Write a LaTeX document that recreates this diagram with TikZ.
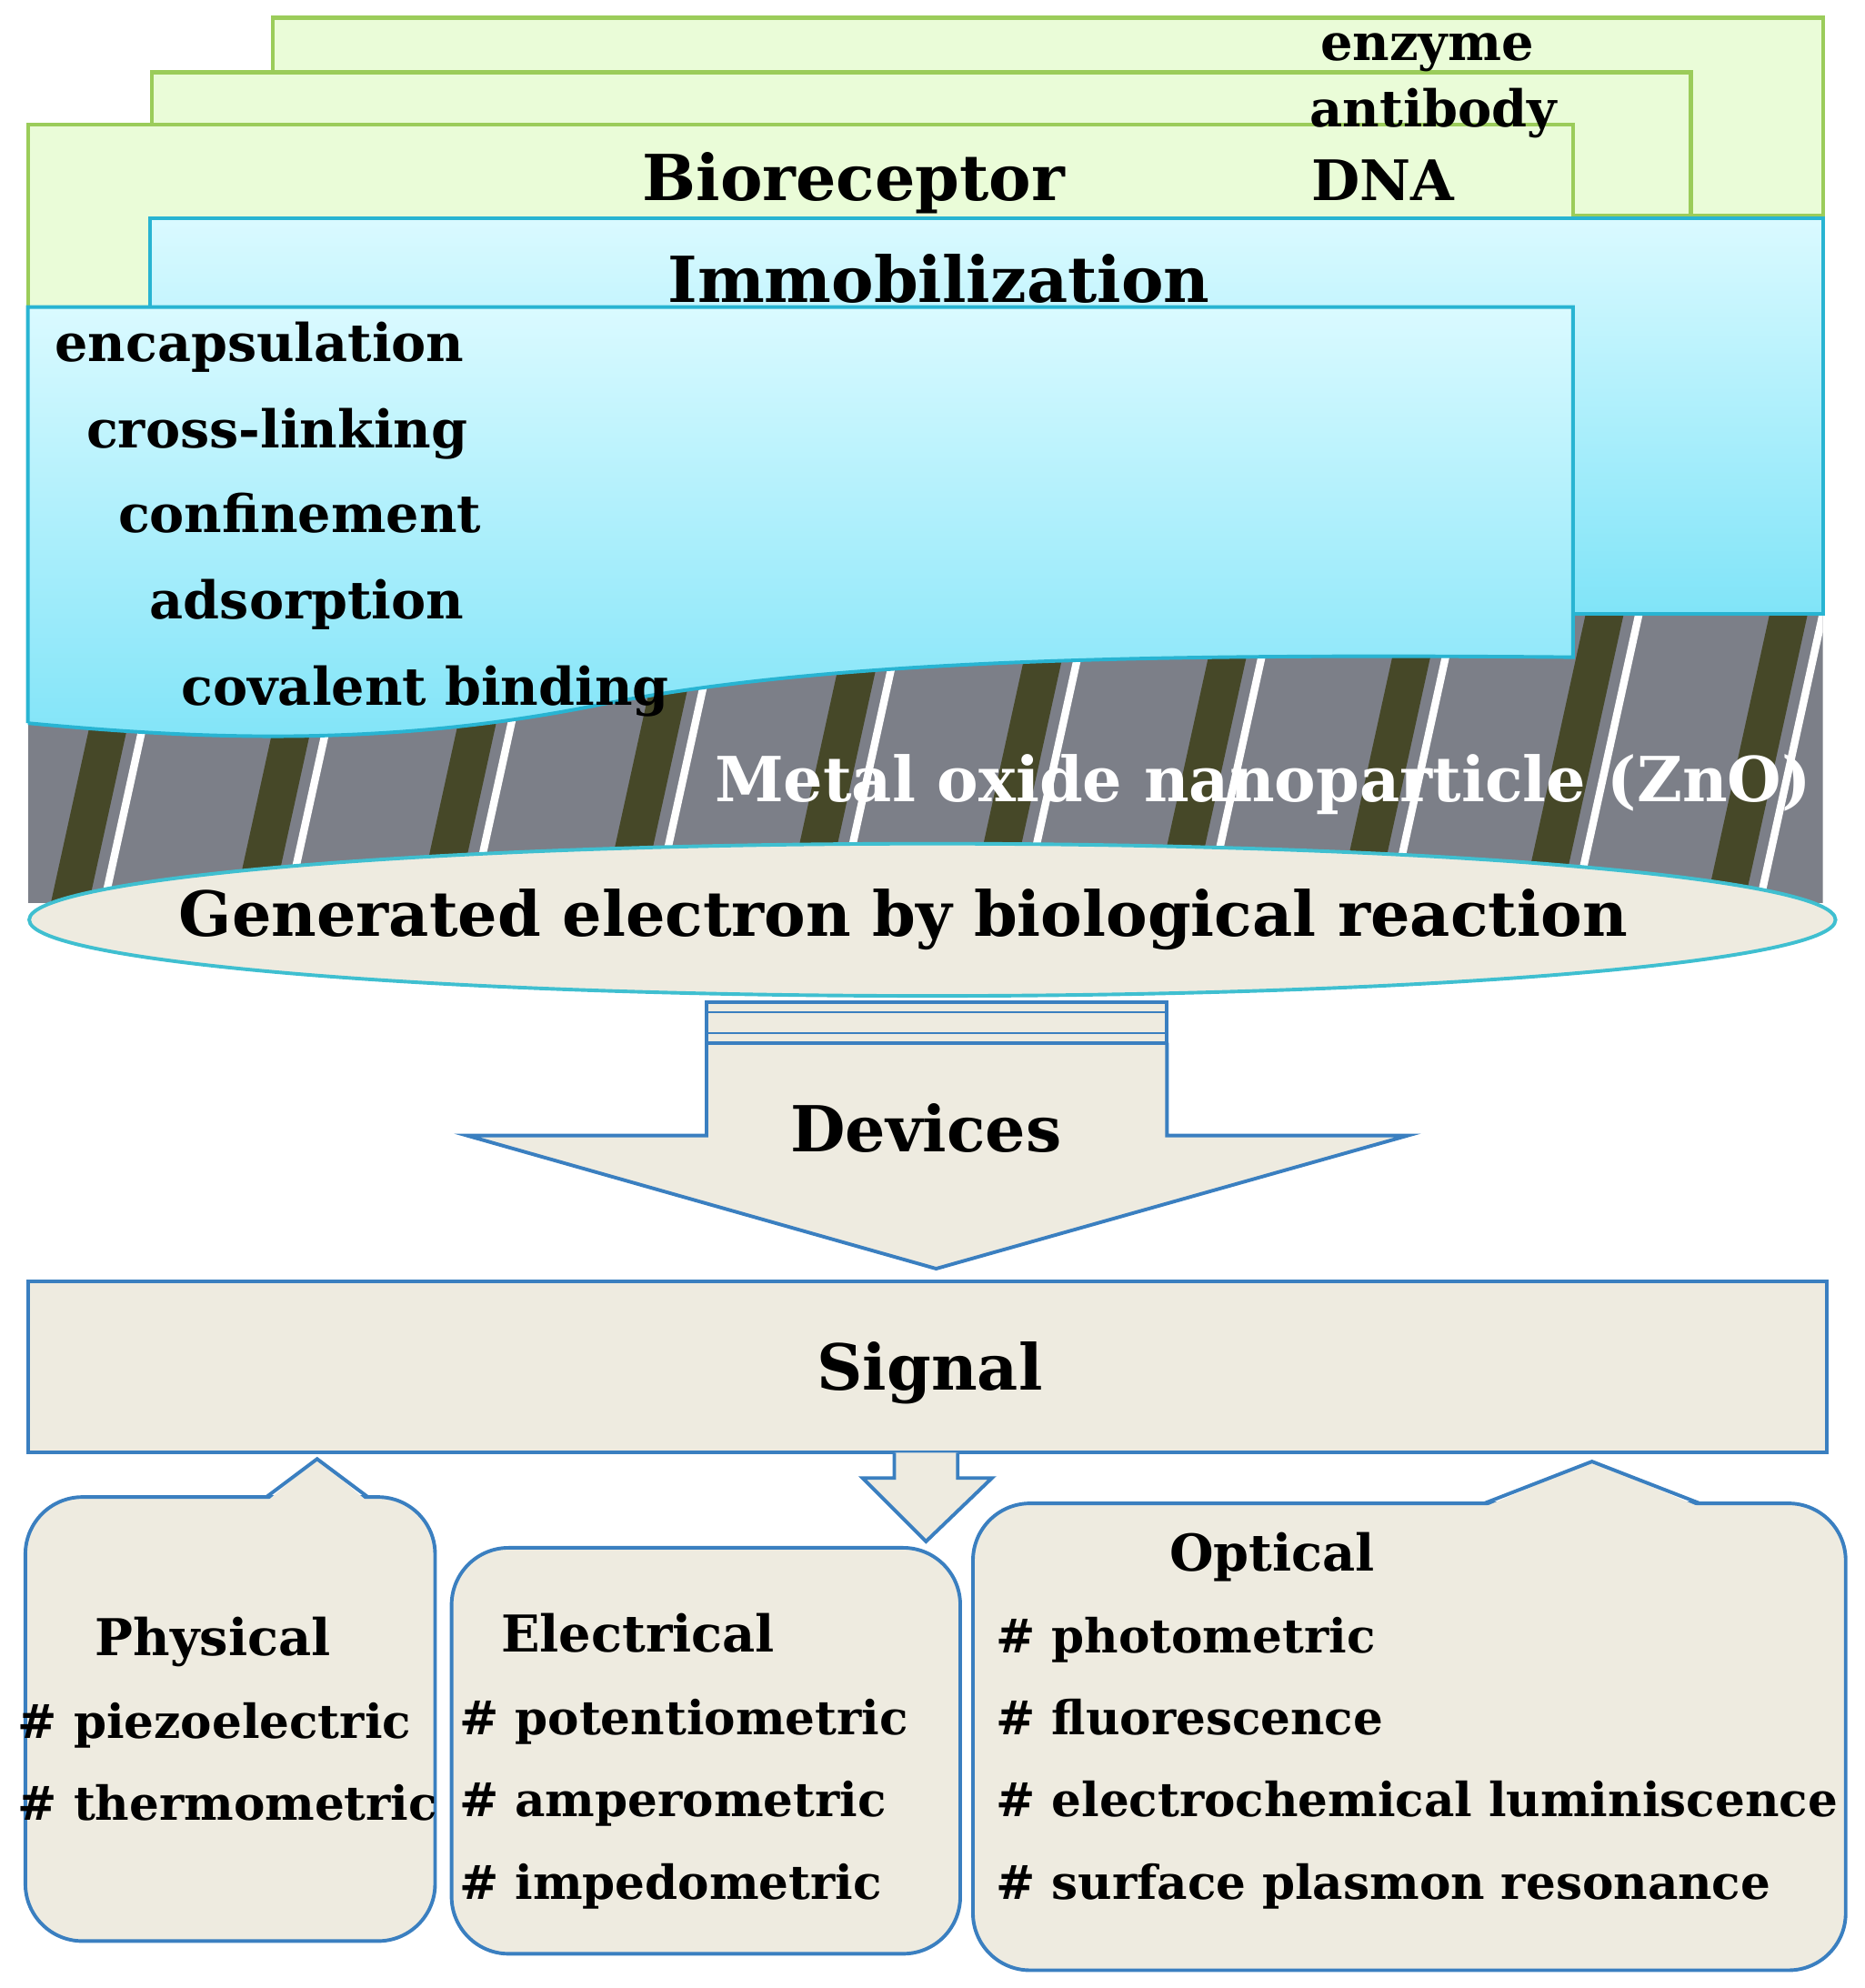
\documentclass[tikz,border=0pt]{standalone}
\usepackage{fontspec}
\setmainfont{DejaVu Serif}
\definecolor{gfill}{RGB}{234,252,216}
\definecolor{gline}{RGB}{155,204,90}
\definecolor{bfill}{RGB}{238,235,224}
\definecolor{bline}{RGB}{58,127,192}
\definecolor{ctop}{RGB}{218,250,255}
\definecolor{cbot}{RGB}{128,228,248}
\definecolor{cline}{RGB}{40,180,210}
\definecolor{eline}{RGB}{63,191,208}
\definecolor{metal}{RGB}{124,127,136}
\definecolor{olive}{RGB}{70,72,40}
\begin{document}
\begin{tikzpicture}[x=1pt,y=-1pt,
  txt/.style={inner sep=0pt,font=\bfseries\fontsize{#1}{#1}\selectfont},
  bg/.style={fill=gfill,draw=gline,line width=3pt},
  beige/.style={fill=bfill},
  blueline/.style={draw=bline,line width=2.8pt}]
\useasboundingbox (0,0) rectangle (1470,1567);
% green bioreceptor cards
\draw[bg] (215,14) rectangle (1437,170);
\draw[bg] (120,57) rectangle (1333,170);
\draw[bg] (22,98) rectangle (1240,242);
\node[txt=40,anchor=base] (enz) at (1125,48) {enzyme};
\node[txt=40,anchor=base] (ab) at (1130,100) {antibody};
\node[txt=50,anchor=base] (bio) at (673,158) {Bioreceptor};
\node[txt=44,anchor=base] (dna) at (1090,158) {DNA};
% metal oxide stripes
\begin{scope}
\clip (22,484) rectangle (1437,712);
\fill[metal] (22,484) rectangle (1437,712);
\foreach \i in {-1,...,10}{
  \fill[olive] (40+\i*145,712) -- (70+\i*145,712) -- (120+\i*145,484) -- (90+\i*145,484) -- cycle;
  \draw[white,line width=6pt] (82+\i*145,712) -- (132+\i*145,484);
}
\end{scope}
\node[txt=49,anchor=base east,text=white] (zno) at (1428,632) {Metal oxide nanoparticle (ZnO)};
% cyan immobilization
\shade[top color=ctop,bottom color=cbot] (118,172) rectangle (1437,484);
\draw[draw=cline,line width=2.8pt] (118,242) -- (118,172) -- (1437,172) -- (1437,484) -- (1240,484);
\node[txt=50,anchor=base] (imm) at (740,238) {Immobilization};
\shade[top color=ctop,bottom color=cbot]
 (22,242) -- (1240,242) -- (1240,518) .. controls (900,515) and (650,520) .. (470,556) .. controls (300,590) and (150,582) .. (22,570) -- cycle;
\draw[draw=cline,line width=2.8pt] (22,570) -- (22,242) -- (1240,242) -- (1240,518) .. controls (900,515) and (650,520) .. (470,556) .. controls (300,590) and (150,582) .. (22,570);
\node[txt=41,anchor=base west] (l1) at (43,285) {encapsulation};
\node[txt=41,anchor=base west] (l2) at (68,353) {cross-linking};
\node[txt=41,anchor=base west] (l3) at (93,420) {confinement};
\node[txt=41,anchor=base west] (l4) at (118,488) {adsorption};
\node[txt=41,anchor=base west] (l5) at (143,556) {covalent binding};
% ellipse
\draw[beige,draw=eline,line width=2.8pt] (735,725) ellipse [x radius=712,y radius=60];
\node[txt=49,anchor=base] (gen) at (712,738) {Generated electron by biological reaction};
% devices arrow
\draw[beige,blueline] (557,822) -- (557,895) -- (368,895) -- (738,1000) -- (1110,895) -- (920,895) -- (920,822);
\draw[beige,blueline] (557,790) rectangle (920,822);
\draw[blueline,line width=1.5pt] (557,798) -- (920,798) (557,814) -- (920,814);
\node[txt=50,anchor=base] (dev) at (730,908) {Devices};
% signal
\draw[beige,blueline] (22,1010) rectangle (1440,1145);
\node[txt=50,anchor=base] (sig) at (733,1096) {Signal};
% callouts
\draw[beige,blueline,rounded corners=45] (20,1180) rectangle (343,1530);
\draw[beige,blueline,rounded corners=45] (356,1220) rectangle (757,1540);
\draw[beige,blueline,rounded corners=45] (767,1185) rectangle (1455,1553);
\fill[beige] (212,1182) -- (250,1150) -- (288,1182) -- cycle;
\draw[blueline] (210,1180) -- (250,1150) -- (290,1180);
\fill[beige] (1172,1187) -- (1255,1152) -- (1338,1187) -- cycle;
\draw[blueline] (1170,1185) -- (1255,1152) -- (1340,1185);
\draw[beige,blueline] (705,1145) -- (705,1165) -- (680,1165) -- (730,1215) -- (782,1165) -- (755,1165) -- (755,1145);
\node[txt=40,anchor=base] (phy) at (168,1305) {Physical};
\node[txt=37,anchor=base west] (p1) at (14,1370) {\# piezoelectric};
\node[txt=37,anchor=base west] (p2) at (14,1435) {\# thermometric};
\node[txt=40,anchor=base] (ele) at (503,1302) {Electrical};
\node[txt=37,anchor=base west] (e1) at (362,1367) {\# potentiometric};
\node[txt=37,anchor=base west] (e2) at (362,1432) {\# amperometric};
\node[txt=37,anchor=base west] (e3) at (362,1497) {\# impedometric};
\node[txt=40,anchor=base] (opt) at (1003,1238) {Optical};
\node[txt=37,anchor=base west] (o1) at (785,1303) {\# photometric};
\node[txt=37,anchor=base west] (o2) at (785,1367) {\# fluorescence};
\node[txt=37,anchor=base west] (o3) at (785,1432) {\# electrochemical luminiscence};
\node[txt=37,anchor=base west] (o4) at (785,1497) {\# surface plasmon resonance};
\end{tikzpicture}
\end{document}
